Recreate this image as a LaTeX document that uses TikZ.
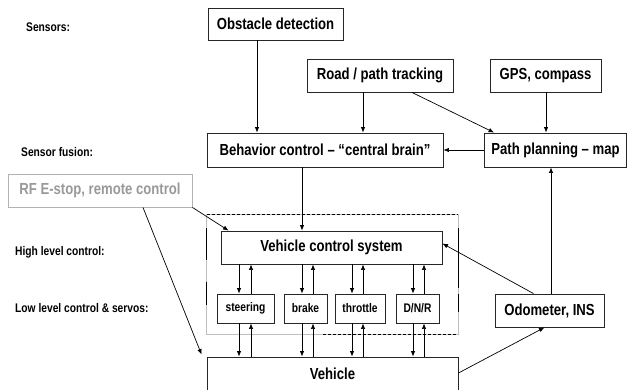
\documentclass[tikz,border=0pt]{standalone}
\usepackage{fontspec}
\setmainfont{Liberation Sans}[FakeStretch=0.82]
\usetikzlibrary{arrows.meta}
\begin{document}
\begin{tikzpicture}[x=1pt,y=-1pt,
  box/.style={draw=black!85, line width=0.9pt, fill=white, inner sep=0pt, font=\bfseries\fontsize{16}{18}\selectfont},
  sbox/.style={draw=black!85, line width=0.9pt, fill=white, inner sep=0pt, minimum height=29pt, font=\bfseries\fontsize{12.5}{14}\selectfont},
  lab/.style={anchor=west, inner sep=0pt, font=\bfseries\fontsize{12.5}{14}\selectfont},
  arr/.style={-{Latex[length=5.5pt,width=4.5pt]}, line width=0.7pt, black}]
\useasboundingbox (0,0) rectangle (628,389);
% dashed frame
\coordinate (fnw) at (206.5,214);
\coordinate (fse) at (458,334);
\draw[black!25, line width=0.7pt] (fnw) rectangle (fse);
\draw[black, line width=0.7pt, dash pattern=on 3pt off 2pt] (fnw) -- (fnw -| fse);
\draw[black, line width=0.7pt, dash pattern=on 3pt off 2pt] (323,334) -- (fse);
\draw[black, line width=0.8pt, dash pattern=on 32pt off 22pt] (206.5,228) -- (206.5,305);
\draw[black, line width=0.8pt, dash pattern=on 60pt off 6pt] (458,228) -- (458,312);
% labels
\node[lab] (l1) at (26,27) {Sensors:};
\node[lab] (l2) at (21,152) {Sensor fusion:};
\node[lab] (l3) at (15,252) {High level control:};
\node[lab] (l4) at (15,308) {Low level control \& servos:};
% boxes
\node[box, minimum width=135pt, minimum height=32pt] (obst) at (275.5,24) {Obstacle detection};
\node[box, minimum width=146pt, minimum height=33pt] (road) at (380,75.5) {Road / path tracking};
\node[box, minimum width=111pt, minimum height=33pt] (gps) at (545.5,75.5) {GPS, compass};
\node[box, minimum width=236pt, minimum height=34pt] (behav) at (325,150) {Behavior control – “central brain”};
\node[box, minimum width=142pt, minimum height=34pt] (path) at (555.5,150) {Path planning – map};
\node[box, draw=black!30, text=black!40, minimum width=184pt, minimum height=33pt] (rf) at (100,190.5) {RF E-stop, remote control};
\node[box, minimum width=221pt, minimum height=33pt] (vcs) at (331.5,247.5) {Vehicle control system};
\node[sbox, minimum width=57pt] (steer) at (245.5,308.5) {steering};
\node[sbox, minimum width=43pt] (brake) at (305.5,308.5) {brake};
\node[sbox, minimum width=50pt] (thr) at (360,308.5) {throttle};
\node[sbox, minimum width=43pt] (dnr) at (417.5,308.5) {D/N/R};
\node[box, minimum width=109pt, minimum height=33pt] (odo) at (549.5,310.5) {Odometer, INS};
\node[box, minimum width=251pt, minimum height=34pt] (veh) at (332.5,374) {Vehicle};
% column coordinates
\coordinate (c1) at (257,0);
\coordinate (c2) at (363,0);
\coordinate (c3) at (546,0);
\coordinate (c4) at (302,0);
\coordinate (c5) at (551,0);
\coordinate (sd) at (239,0); \coordinate (su) at (251,0);
\coordinate (bd) at (302,0); \coordinate (bu) at (313,0);
\coordinate (td) at (352,0); \coordinate (tu) at (363,0);
\coordinate (dd) at (413,0); \coordinate (du) at (424,0);
% connectors
\draw[arr] (obst.south -| c1) -- (behav.north -| c1);
\draw[arr] (road.south -| c2) -- (behav.north -| c2);
\draw[arr] ([xshift=32pt]road.south) -- ([xshift=10pt]path.north west);
\draw[arr] (gps.south -| c3) -- (path.north -| c3);
\draw[arr] (path.west) -- (behav.east);
\draw[arr] (behav.south -| c4) -- (vcs.north -| c4);
\draw[arr] (rf.south east) -- ([xshift=8pt]vcs.north west);
\draw[arr] ([xshift=43pt]rf.south) -- ([xshift=-5pt,yshift=2pt]veh.north west);
\draw[arr] (odo.north -| c5) -- (path.south -| c5);
\draw[arr] ([xshift=-16pt]odo.north) -- ([yshift=4pt]vcs.east);
\draw[arr] ([yshift=1pt]veh.east) -- ([xshift=-5pt]odo.south);
% vcs <-> servos
\draw[arr] (vcs.south -| sd) -- (steer.north -| sd);
\draw[arr] (steer.north -| su) -- (vcs.south -| su);
\draw[arr] (vcs.south -| bd) -- (brake.north -| bd);
\draw[arr] (brake.north -| bu) -- (vcs.south -| bu);
\draw[arr] (vcs.south -| td) -- (thr.north -| td);
\draw[arr] (thr.north -| tu) -- (vcs.south -| tu);
\draw[arr] (vcs.south -| dd) -- (dnr.north -| dd);
\draw[arr] (dnr.north -| du) -- (vcs.south -| du);
% servos <-> vehicle
\draw[arr] (steer.south -| sd) -- (veh.north -| sd);
\draw[arr] (veh.north -| su) -- (steer.south -| su);
\draw[arr] (brake.south -| bd) -- (veh.north -| bd);
\draw[arr] (veh.north -| bu) -- (brake.south -| bu);
\draw[arr] (thr.south -| td) -- (veh.north -| td);
\draw[arr] (veh.north -| tu) -- (thr.south -| tu);
\draw[arr] (dnr.south -| dd) -- (veh.north -| dd);
\draw[arr] (veh.north -| du) -- (dnr.south -| du);
\end{tikzpicture}
\end{document}
